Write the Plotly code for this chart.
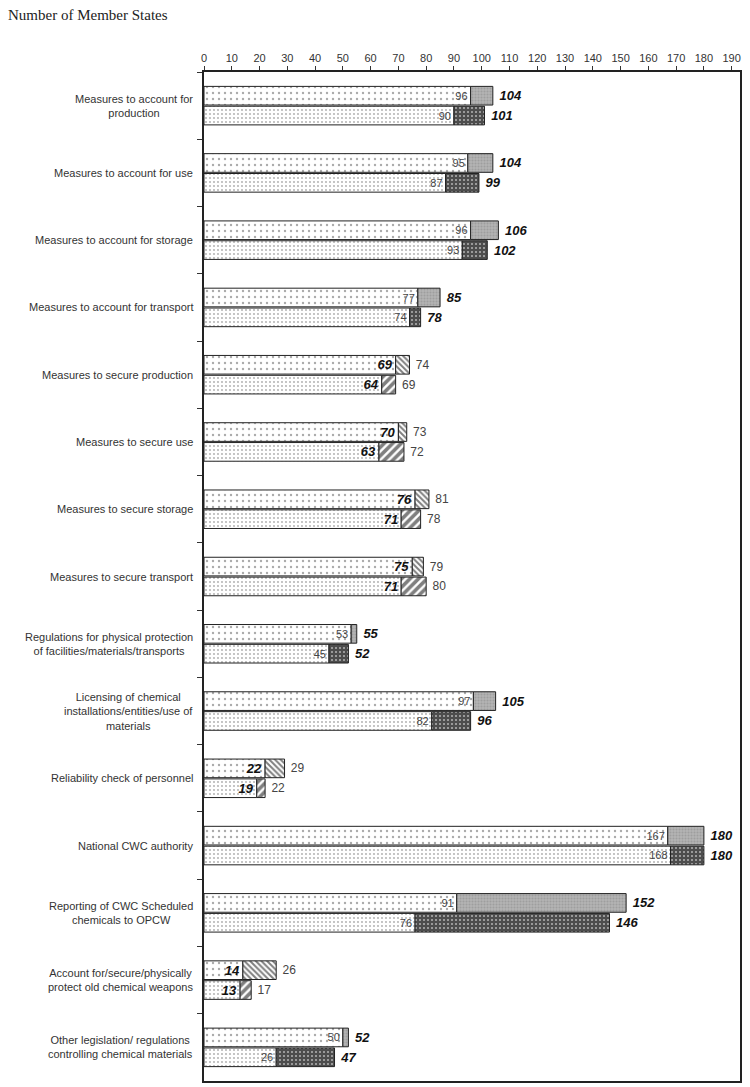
import plotly.graph_objects as go

categories = [
    "Measures to account for<br>production",
    "Measures to account for use",
    "Measures to account for storage",
    "Measures to account for transport",
    "Measures to secure production",
    "Measures to secure use",
    "Measures to secure storage",
    "Measures to secure transport",
    "Regulations for physical protection<br>of facilities/materials/transports",
    "Licensing of chemical<br>installations/entities/use of<br>materials",
    "Reliability check of personnel",
    "National CWC authority",
    "Reporting of CWC Scheduled<br>chemicals to OPCW",
    "Account for/secure/physically<br>protect old chemical weapons",
    "Other legislation/ regulations<br>controlling chemical materials",
]
upper_base = [96, 95, 96, 77, 69, 70, 76, 75, 53, 97, 22, 167, 91, 14, 50]
upper_total = [104, 104, 106, 85, 74, 73, 81, 79, 55, 105, 29, 180, 152, 26, 52]
lower_base = [90, 87, 93, 74, 64, 63, 71, 71, 45, 82, 19, 168, 76, 13, 26]
lower_total = [101, 99, 102, 78, 69, 72, 78, 80, 52, 96, 22, 180, 146, 17, 47]
hatched = [False, False, False, False, True, True, True, True, False, False, True, False, False, True, False]
x_ticks = list(range(0, 191, 10))

keys = [f"c{i}" for i in range(len(categories))]

def bi(v):
    return f"<b><i>{v}</i></b>"

def inner_text(vals):
    return [bi(v) if h else str(v) for v, h in zip(vals, hatched)]

def outer_text(vals):
    return ["\u00a0" + (str(v) if h else bi(v)) for v, h in zip(vals, hatched)]

def inner_size():
    return [13 if h else 11 for h in hatched]

def outer_size():
    return [12 if h else 13 for h in hatched]

def inner_color():
    return ["#111" if h else "#444" for h in hatched]

def outer_color():
    return ["#444" if h else "#111" for h in hatched]

FONT = "Liberation Sans, Arial"
line = dict(width=1, color="#222")
fig = go.Figure()

# upper base
fig.add_trace(go.Bar(
    y=keys, x=upper_base, orientation="h", offsetgroup="u",
    marker=dict(color="white", line=line,
                pattern=dict(shape=".", fgcolor="#555", bgcolor="white", size=6, solidity=0.12)),
    text=inner_text(upper_base), textposition="inside", insidetextanchor="end", textangle=0,
    textfont=dict(family=FONT, size=inner_size(), color=inner_color()),
    constraintext="none", cliponaxis=False, showlegend=False, hoverinfo="skip",
))
# upper extension
fig.add_trace(go.Bar(
    y=keys, x=[t - b for t, b in zip(upper_total, upper_base)], base=upper_base,
    orientation="h", offsetgroup="u",
    marker=dict(color="#aaaaaa", line=line,
                pattern=dict(
                    shape=["\\" if h else "." for h in hatched],
                    fgcolor=["#000" if h else "#888" for h in hatched],
                    bgcolor=["white" if h else "#b4b4b4" for h in hatched],
                    size=[4 if h else 3 for h in hatched],
                    solidity=[0.5 if h else 0.4 for h in hatched])),
    text=outer_text(upper_total), textposition="outside", textangle=0,
    textfont=dict(family=FONT, size=outer_size(), color=outer_color()),
    constraintext="none", cliponaxis=False, showlegend=False, hoverinfo="skip",
))
# lower base
fig.add_trace(go.Bar(
    y=keys, x=lower_base, orientation="h", offsetgroup="l",
    marker=dict(color="white", line=line,
                pattern=dict(shape=".", fgcolor="#555", bgcolor="white", size=4, solidity=0.16)),
    text=inner_text(lower_base), textposition="inside", insidetextanchor="end", textangle=0,
    textfont=dict(family=FONT, size=inner_size(), color=inner_color()),
    constraintext="none", cliponaxis=False, showlegend=False, hoverinfo="skip",
))
# lower extension
fig.add_trace(go.Bar(
    y=keys, x=[t - b for t, b in zip(lower_total, lower_base)], base=lower_base,
    orientation="h", offsetgroup="l",
    marker=dict(color="#222", line=line,
                pattern=dict(
                    shape=["/" if h else "+" for h in hatched],
                    fgcolor="#000",
                    bgcolor=["white" if h else "#9a9a9a" for h in hatched],
                    size=[6 if h else 4 for h in hatched],
                    solidity=[0.6 if h else 0.75 for h in hatched])),
    text=outer_text(lower_total), textposition="outside", textangle=0,
    textfont=dict(family=FONT, size=outer_size(), color=outer_color()),
    constraintext="none", cliponaxis=False, showlegend=False, hoverinfo="skip",
))

for k, c in zip(keys, categories):
    fig.add_annotation(
        xref="paper", x=0, xshift=-9, xanchor="right", yref="y", y=k,
        text=c, showarrow=False, align="center",
        font=dict(family=FONT, size=11, color="#333"),
    )

fig.update_layout(
    width=750, height=1087,
    margin=dict(l=204, r=10, t=72, b=6),
    paper_bgcolor="white", plot_bgcolor="white",
    barmode="group", bargap=0.41, bargroupgap=0.06,
    title=dict(text="Number of Member States", xref="container", x=8 / 750, xanchor="left",
               yref="container", y=1 - 15 / 1087, yanchor="middle",
               font=dict(family="Liberation Serif, Times New Roman", size=15, color="#222")),
    xaxis=dict(side="top", range=[0, 193], tickvals=x_ticks, ticks="outside", ticklen=4,
               tickcolor="#333", showgrid=False, zeroline=False, showline=True,
               linecolor="#222", linewidth=1.5, mirror=True, automargin=False,
               tickfont=dict(family=FONT, size=11, color="#333")),
    yaxis=dict(categoryorder="array", categoryarray=keys, autorange="reversed",
               showticklabels=False, ticks="outside", ticklen=5, tickson="boundaries",
               tickcolor="#333", showgrid=False, zeroline=False, showline=True,
               linecolor="#222", linewidth=1.5, mirror=True, automargin=False),
)

fig.write_html("out.html", config={"displayModeBar": False},
               post_script="document.body.style.margin='0px';")
